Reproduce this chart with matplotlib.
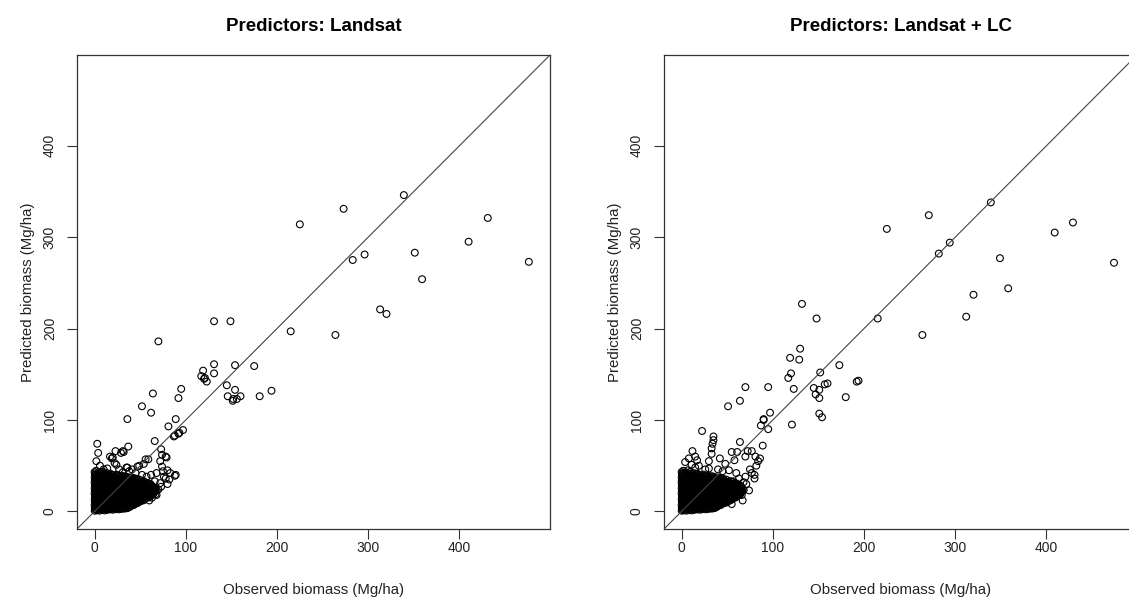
import matplotlib
matplotlib.use("Agg")
import matplotlib.pyplot as plt

plt.rcParams['font.family'] = ['Liberation Sans', 'DejaVu Sans']

# dense core of low-biomass plots (same look in both panels)
blob_obs = [
    0.2, 0.5, 2.8, 5.6, 8.3, 11.2, 14.1, 17.3, 20.5, 23.6, 26.8, 30.1, 33.4, 36.2,
    0.3, 3.1, 6.0, 9.2, 12.1, 15.3, 18.2, 21.4, 24.3, 27.5, 30.6, 33.7, 36.9, 40.1, 43.0,
    0.1, 2.9, 5.8, 8.7, 11.6, 14.5, 17.4, 20.3, 23.2, 26.1, 29.0, 31.9, 34.8, 37.7, 40.6, 43.5, 46.4, 49.0,
    0.4, 3.3, 6.2, 9.1, 12.0, 14.9, 17.8, 20.7, 23.6, 26.5, 29.4, 32.3, 35.2, 38.1, 41.0, 43.9, 46.8, 49.7, 52.6, 55.0,
    0.2, 3.0, 5.9, 8.8, 11.7, 14.6, 17.5, 20.4, 23.3, 26.2, 29.1, 32.0, 34.9, 37.8, 40.7, 43.6, 46.5, 49.4, 52.3, 55.2, 58.1, 60.5,
    0.5, 3.4, 6.3, 9.2, 12.1, 15.0, 17.9, 20.8, 23.7, 26.6, 29.5, 32.4, 35.3, 38.2, 41.1, 44.0, 46.9, 49.8, 52.7, 55.6, 58.5, 61.4, 64.0,
    0.1, 3.0, 5.9, 8.8, 11.7, 14.6, 17.5, 20.4, 23.3, 26.2, 29.1, 32.0, 34.9, 37.8, 40.7, 43.6, 46.5, 49.4, 52.3, 55.2, 58.1, 61.0, 63.9, 66.5,
    0.3, 3.2, 6.1, 9.0, 11.9, 14.8, 17.7, 20.6, 23.5, 26.4, 29.3, 32.2, 35.1, 38.0, 40.9, 43.8, 46.7, 49.6, 52.5, 55.4, 58.3, 61.2, 64.1, 67.0,
    0.2, 3.1, 6.0, 8.9, 11.8, 14.7, 17.6, 20.5, 23.4, 26.3, 29.2, 32.1, 35.0, 37.9, 40.8, 43.7, 46.6, 49.5, 52.4, 55.3, 58.2, 61.1, 64.0,
    0.4, 3.3, 6.2, 9.1, 12.0, 14.9, 17.8, 20.7, 23.6, 26.5, 29.4, 32.3, 35.2, 38.1, 41.0, 43.9, 46.8, 49.7, 52.6, 55.5, 58.4, 60.8,
    0.1, 3.0, 5.9, 8.8, 11.7, 14.6, 17.5, 20.4, 23.3, 26.2, 29.1, 32.0, 34.9, 37.8, 40.7, 43.6, 46.5, 49.4, 52.3, 55.0,
    0.3, 3.2, 6.1, 9.0, 11.9, 14.8, 17.7, 20.6, 23.5, 26.4, 29.3, 32.2, 35.1, 38.0, 40.9, 43.8, 46.7, 49.2,
    0.2, 3.1, 6.0, 8.9, 11.8, 14.7, 17.6, 20.5, 23.4, 26.3, 29.2, 32.1, 35.0, 38.2, 42.5,
    0.4, 2.8, 5.5, 8.7, 12.3, 15.9, 19.6, 24.1,
    0.1, 1.8, 4.6, 9.5,
    1.6, 4.4, 7.2, 10.1, 13.0, 15.8, 18.7, 21.6, 24.5, 27.4, 30.3, 33.1, 36.0, 38.8,
    1.5, 4.5, 7.4, 10.6, 13.7, 16.8, 19.9, 22.9, 25.9, 29.0, 32.1, 35.3, 38.4, 41.5, 44.6, 47.3,
    1.7, 4.6, 7.5, 10.4, 13.3, 16.2, 19.1, 22.0, 24.9, 27.8, 30.7, 33.6, 36.5, 39.4, 42.3, 45.2, 48.1, 51.0, 53.8,
    1.6, 4.5, 7.4, 10.3, 13.2, 16.1, 19.0, 21.9, 24.8, 27.7, 30.6, 33.5, 36.4, 39.3, 42.2, 45.1, 48.0, 50.9, 53.8, 56.7, 59.4,
    1.8, 4.7, 7.6, 10.5, 13.4, 16.3, 19.2, 22.1, 25.0, 27.9, 30.8, 33.7, 36.6, 39.5, 42.4, 45.3, 48.2, 51.1, 54.0, 56.9, 59.8, 62.7,
    1.5, 4.4, 7.3, 10.2, 13.1, 16.0, 18.9, 21.8, 24.7, 27.6, 30.5, 33.4, 36.3, 39.2, 42.1, 45.0, 47.9, 50.8, 53.7, 56.6, 59.5, 62.4, 65.3,
    1.7, 4.6, 7.5, 10.4, 13.3, 16.2, 19.1, 22.0, 24.9, 27.8, 30.7, 33.6, 36.5, 39.4, 42.3, 45.2, 48.1, 51.0, 53.9, 56.8, 59.7, 62.6, 65.5, 68.2,
    1.6, 4.5, 7.4, 10.3, 13.2, 16.1, 19.0, 21.9, 24.8, 27.7, 30.6, 33.5, 36.4, 39.3, 42.2, 45.1, 48.0, 50.9, 53.8, 56.7, 59.6, 62.5, 65.4,
    1.8, 4.7, 7.6, 10.5, 13.4, 16.3, 19.2, 22.1, 25.0, 27.9, 30.8, 33.7, 36.6, 39.5, 42.4, 45.3, 48.2, 51.1, 54.0, 56.9, 59.8, 62.3,
    1.5, 4.4, 7.3, 10.2, 13.1, 16.0, 18.9, 21.8, 24.7, 27.6, 30.5, 33.4, 36.3, 39.2, 42.1, 45.0, 47.9, 50.8, 53.7, 56.6, 59.0,
    1.7, 4.6, 7.5, 10.4, 13.3, 16.2, 19.1, 22.0, 24.9, 27.8, 30.7, 33.6, 36.5, 39.4, 42.3, 45.2, 48.1, 51.0, 53.6,
    1.6, 4.5, 7.4, 10.3, 13.2, 16.1, 19.0, 21.9, 24.8, 27.7, 30.6, 33.5, 36.4, 39.3, 42.2, 45.4,
    1.5, 4.4, 7.3, 10.2, 13.1, 16.0, 18.9, 21.8, 24.7, 27.6, 30.5, 33.6,
    1.3, 4.2, 7.1, 10.6, 14.0, 17.5,
]
blob_pred = [
    0.8, 2.1, 1.2, 0.9, 1.6, 1.1, 1.8, 2.2, 1.9, 2.6, 2.3, 2.9, 3.1, 3.6,
    4.2, 3.8, 4.5, 4.1, 3.9, 4.6, 4.0, 4.4, 4.8, 4.3, 4.9, 5.2, 5.6, 6.1, 7.0,
    7.1, 7.4, 6.8, 7.3, 7.0, 7.6, 6.9, 7.2, 7.5, 7.1, 7.7, 7.3, 7.8, 8.0, 8.3, 8.9, 9.6, 10.5,
    10.2, 9.8, 10.5, 10.1, 9.9, 10.6, 10.3, 9.7, 10.4, 10.0, 10.8, 10.2, 10.6, 10.1, 10.9, 10.4, 11.2, 11.8, 12.6, 13.5,
    13.1, 13.5, 12.8, 13.3, 13.0, 13.7, 12.9, 13.4, 13.2, 12.8, 13.6, 13.1, 13.8, 12.9, 13.3, 13.7, 13.0, 13.5, 14.1, 14.8, 15.6, 16.5,
    16.3, 15.8, 16.6, 16.1, 15.9, 16.4, 16.8, 15.7, 16.2, 16.5, 15.9, 16.7, 16.0, 16.4, 15.8, 16.6, 16.1, 16.9, 16.3, 16.7, 17.2, 17.9, 18.8,
    19.2, 19.6, 18.9, 19.4, 19.0, 19.7, 19.1, 18.8, 19.5, 19.2, 19.8, 18.9, 19.3, 19.6, 19.0, 19.4, 19.8, 19.1, 19.5, 19.9, 20.3, 20.8, 21.4, 22.0,
    22.1, 22.5, 21.8, 22.3, 22.0, 22.6, 21.9, 22.4, 22.2, 21.7, 22.5, 22.0, 22.7, 21.9, 22.3, 22.6, 22.1, 22.8, 22.2, 22.5, 23.0, 23.4, 24.0, 24.6,
    25.3, 24.8, 25.5, 25.0, 25.7, 24.9, 25.4, 25.1, 25.6, 24.9, 25.2, 25.8, 25.0, 25.4, 24.8, 25.5, 25.1, 25.7, 25.2, 25.6, 26.1, 26.7, 27.3,
    28.1, 28.5, 27.8, 28.3, 28.0, 28.6, 27.9, 28.4, 28.2, 27.7, 28.5, 28.0, 28.7, 27.9, 28.3, 28.6, 28.1, 28.8, 28.2, 28.9, 29.4, 30.2,
    31.2, 30.8, 31.5, 31.0, 31.6, 30.9, 31.3, 31.7, 30.8, 31.4, 31.0, 31.6, 31.2, 30.9, 31.5, 31.1, 31.8, 31.3, 31.9, 32.4,
    34.1, 34.5, 33.8, 34.3, 34.0, 34.6, 33.9, 34.4, 34.2, 33.7, 34.5, 34.0, 34.7, 33.9, 34.3, 34.6, 34.1, 34.8,
    37.2, 36.8, 37.5, 37.0, 37.6, 36.9, 37.3, 37.7, 36.8, 37.4, 37.0, 37.5, 37.9, 37.2, 36.7,
    40.2, 39.6, 40.8, 40.1, 39.7, 40.5, 39.9, 40.3,
    43.1, 44.5, 42.7, 43.4,
    2.6, 2.9, 2.4, 3.0, 2.7, 3.1, 2.8, 3.3, 3.0, 3.5, 3.4, 3.8, 4.3, 5.0,
    5.6, 5.3, 5.9, 5.4, 5.8, 5.5, 6.0, 5.6, 5.9, 5.5, 6.1, 6.4, 6.8, 7.4, 8.3, 9.2,
    8.6, 8.9, 8.3, 8.8, 8.5, 9.0, 8.4, 8.7, 9.1, 8.5, 8.9, 8.6, 9.2, 8.8, 9.4, 9.9, 10.5, 11.3, 12.2,
    11.6, 11.2, 11.9, 11.4, 11.8, 11.3, 11.7, 11.5, 11.1, 11.8, 11.4, 11.9, 11.3, 11.7, 11.5, 12.0, 12.4, 12.9, 13.6, 14.4, 15.3,
    14.7, 14.3, 14.9, 14.4, 14.8, 14.2, 14.6, 14.9, 14.3, 14.7, 14.5, 14.9, 14.2, 14.8, 14.4, 14.7, 15.0, 15.3, 15.7, 16.2, 16.9, 17.7,
    17.6, 17.9, 17.3, 17.8, 17.4, 17.7, 17.2, 17.9, 17.5, 17.3, 17.8, 17.6, 17.4, 17.9, 17.5, 17.2, 17.8, 18.1, 17.9, 18.4, 18.9, 19.5, 20.3,
    20.6, 20.3, 20.9, 20.4, 20.8, 20.2, 20.7, 20.5, 20.9, 20.3, 20.6, 20.8, 20.4, 20.7, 20.3, 20.9, 20.5, 20.8, 21.0, 21.3, 21.7, 22.2, 22.8, 23.5,
    23.7, 23.3, 23.9, 23.4, 23.8, 23.2, 23.6, 23.9, 23.5, 23.3, 23.8, 23.4, 23.7, 23.2, 23.9, 23.5, 23.8, 23.4, 23.9, 24.2, 24.6, 25.1, 25.8,
    26.6, 26.9, 26.3, 26.8, 26.4, 26.7, 26.2, 26.9, 26.5, 26.3, 26.8, 26.6, 26.4, 26.9, 26.5, 26.2, 26.8, 26.5, 26.9, 27.3, 27.8, 28.6,
    29.7, 29.3, 29.9, 29.4, 29.8, 29.2, 29.6, 29.9, 29.5, 29.3, 29.8, 29.4, 29.7, 29.2, 29.9, 29.5, 29.8, 29.4, 29.9, 30.3, 31.0,
    32.6, 32.9, 32.3, 32.8, 32.4, 32.7, 32.2, 32.9, 32.5, 32.3, 32.8, 32.6, 32.4, 32.9, 32.5, 32.2, 32.8, 32.5, 33.1,
    35.7, 35.3, 35.9, 35.4, 35.8, 35.2, 35.6, 35.9, 35.5, 35.3, 35.8, 35.4, 35.7, 35.2, 35.6, 35.9,
    38.6, 38.9, 38.3, 38.8, 38.4, 38.7, 38.2, 38.9, 38.5, 38.3, 38.8, 38.4,
    41.7, 41.3, 41.9, 41.4, 41.8, 41.2,
]

# remaining plots, Landsat-only model
landsat_obs = [339, 273, 225, 431, 410, 351, 296, 283, 476, 359, 313, 320, 215, 264,
               131, 149, 70, 131, 154, 175, 119, 131, 117, 120, 123, 121, 145, 154,
               146, 152, 156, 151.5, 160, 181, 194, 95, 64, 92, 52, 62, 36, 89, 97, 93,
               88, 66, 37, 32, 23, 20, 24, 73, 74, 79, 72, 88, 80, 74, 78, 80, 68, 56,
               49, 36, 3, 4, 10, 17, 19, 22, 29, 31, 35, 41, 47, 54, 59, 81, 87, 92,
               78, 72, 76, 83, 75, 82, 89, 62, 68, 66, 60, 63, 67, 70, 73, 61, 57, 52,
               45, 38, 27, 14, 6, 2, 8, 31]
landsat_pred = [346, 331, 314, 321, 295, 283, 281, 275, 273, 254, 221, 216, 197, 193,
                208, 208, 186, 161, 160, 159, 154, 151, 148, 145, 142, 146, 138, 133,
                126, 123, 123, 121, 126, 126, 132, 134, 129, 124, 115, 108, 101, 101, 89, 86,
                83, 77, 71, 65, 66, 59, 51, 68, 62, 59, 55, 39, 45, 49, 36, 30, 18, 57,
                50, 48, 74, 64, 46, 60, 58, 53, 64, 66, 48, 46, 49, 52, 57, 93, 82, 85,
                60, 31, 38, 42, 44, 35, 40, 40, 42, 33, 12, 15, 19, 24, 27, 30, 38, 40,
                42, 44, 46, 47, 50, 55, 42, 43]

# remaining plots, Landsat + land cover model
lc_obs = [339, 271, 225, 429, 409, 294, 282, 349, 474, 358, 320, 312, 215, 264,
          132, 148, 130, 119, 129, 120, 117, 173, 152, 194, 123, 145, 151, 157, 160,
          147, 151, 180, 151, 154, 192, 121, 70, 95, 64, 51, 97, 90, 90, 87, 95,
          22.5, 35, 35, 34, 33, 33, 12, 64, 89, 55, 72.5, 4, 11, 19, 26, 2, 81, 84,
          82, 86, 77, 80, 80, 74, 66, 55, 61, 46, 58, 62, 65, 68, 70, 60, 52, 45,
          40, 30, 15, 7, 50, 53, 57, 63, 67, 71, 75, 48, 42, 30, 17, 8, 15, 58, 61,
          70, 77]
lc_pred = [338, 324, 309, 316, 305, 294, 282, 277, 272, 244, 237, 213, 211, 193,
           227, 211, 178, 168, 166, 151, 146, 160, 152, 143, 134, 135, 133, 139, 140,
           128, 124, 125, 107, 103, 142, 95, 136, 136, 121, 115, 108, 101, 100, 94, 90,
           88, 82, 78, 74, 69, 63, 66, 76, 72, 65, 66, 54, 51, 50, 46, 42, 60, 55,
           50, 58, 42, 40, 36, 23, 18, 8, 30, 12, 20, 25, 28, 32, 38, 42, 45, 44,
           46, 47, 48, 45, 10, 15, 33, 36, 12, 30, 46, 52, 58, 55, 56, 58, 60, 56, 65,
           60, 66]

ticks = [0, 100, 200, 300, 400]
lims = (-19.2, 499.2)
panels = [
    ("Predictors: Landsat", landsat_obs, landsat_pred, [77 / 1129, 78 / 607, 473 / 1129, 474 / 607]),
    ("Predictors: Landsat + LC", lc_obs, lc_pred, [664 / 1129, 78 / 607, 473 / 1129, 474 / 607]),
]

fig = plt.figure(figsize=(11.29, 6.07), dpi=100)
for title, obs, pred, pos in panels:
    ax = fig.add_axes(pos)
    ax.scatter(blob_obs, blob_pred, s=24, facecolors='none', edgecolors='black', linewidths=0.8)
    ax.scatter(obs, pred, s=24, facecolors='none', edgecolors='black', linewidths=0.8)
    ax.axline((0, 0), (1, 1), color='#444444', lw=0.8)
    ax.set_xlim(lims)
    ax.set_ylim(lims)
    ax.set_xticks(ticks)
    ax.set_yticks(ticks)
    ax.tick_params(direction='out', length=7, width=0.8, color='#333333',
                   labelsize=10, labelcolor='#222222')
    ax.tick_params(axis='x', pad=2)
    ax.tick_params(axis='y', pad=7.5)
    for lab in ax.get_yticklabels():
        lab.set_rotation(90)
        lab.set_va('center')
    for sp in ax.spines.values():
        sp.set_color('#333333')
        sp.set_linewidth(0.9)
    ax.set_xlabel("Observed biomass (Mg/ha)", fontsize=10.8, color='#222222')
    ax.set_ylabel("Predicted biomass (Mg/ha)", fontsize=10.8, color='#222222')
    ax.xaxis.set_label_coords(0.5, -61 / 474)
    ax.xaxis.label.set_va('center')
    ax.yaxis.set_label_coords(-49 / 473, 0.5)
    ax.yaxis.label.set_va('center')
    ax.set_title(title, fontsize=13.5, fontweight='bold', pad=17)

fig.savefig("out.png", dpi=100)
